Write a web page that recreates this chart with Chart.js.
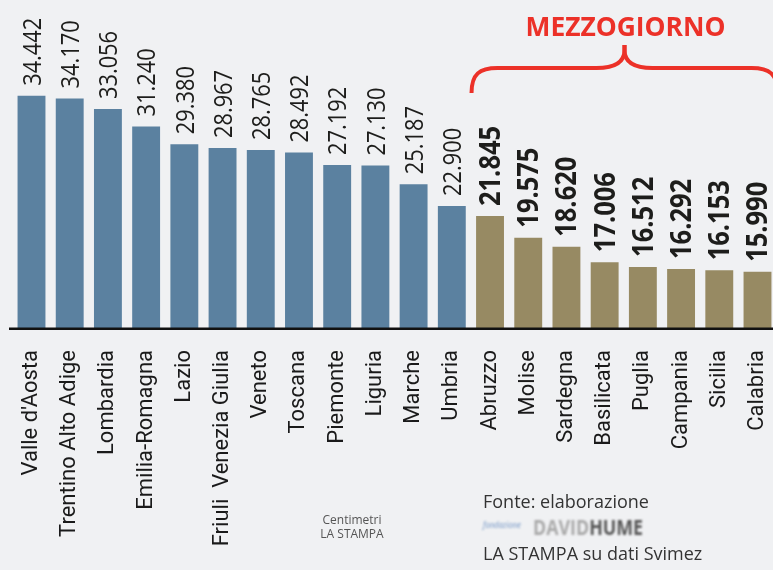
<!DOCTYPE html>
<html><head><meta charset="utf-8">
<script src="https://cdn.jsdelivr.net/npm/chart.js@4.4.1/dist/chart.umd.min.js"></script>
<style>
html,body{margin:0;padding:0;background:#f0f1f3;overflow:hidden;}
#wrap{position:relative;width:773px;height:570px;overflow:hidden;}
canvas{display:block;}
</style></head><body>
<div id="wrap"><canvas id="c" width="780" height="570"></canvas></div>
<script>
// ---- data ----
const regions = ["Valle d'Aosta","Trentino Alto Adige","Lombardia","Emilia-Romagna","Lazio","Friuli  Venezia Giulia","Veneto","Toscana","Piemonte","Liguria","Marche","Umbria","Abruzzo","Molise","Sardegna","Basilicata","Puglia","Campania","Sicilia","Calabria"];
const values = [34442,34170,33056,31240,29380,28967,28765,28492,27192,27130,25187,22900,21845,19575,18620,17006,16512,16292,16153,15990];
const areas = ["CN","CN","CN","CN","CN","CN","CN","CN","CN","CN","CN","CN","S","S","S","S","S","S","S","S"];
const southTitle = "MEZZOGIORNO";
const creditLines = ["Centimetri","LA STAMPA"];
const sourceLines = ["Fonte: elaborazione","LA STAMPA su dati Svimez"];
const logoText = ["fondazione","DAVID","HUME"];

// ---- style ----
const BG = '#f0f1f3';
const COLORS = {CN:'#5b81a0', S:'#978a63'};
const RED = '#ec3128';
const TXT = '#1d1d1b';

function hasFont(name){
  const c=document.createElement('canvas').getContext('2d');
  const s="Trentino Alto Adige 0123";
  c.font='40px monospace'; const a=c.measureText(s).width;
  c.font='40px "'+name+'", monospace'; const b=c.measureText(s).width;
  return Math.abs(a-b)>0.5;
}
const narrow = hasFont('Liberation Sans Narrow');
const tickFont = narrow ? {family:'"Liberation Sans Narrow"', size:27} : {family:'Roboto', size:22};

function fmt(v){ return Math.floor(v/1000)+'.'+String(v%1000).padStart(3,'0'); }

const decor = {
  id:'decor',
  beforeDraw(chart){
    const ctx=chart.ctx; ctx.save(); ctx.fillStyle=BG; ctx.fillRect(0,0,chart.width,chart.height); ctx.restore();
  },
  afterDatasetsDraw(chart){
    const ctx=chart.ctx, ca=chart.chartArea, meta=chart.getDatasetMeta(0);
    // baseline
    ctx.save();
    ctx.strokeStyle='#111'; ctx.lineWidth=2.5;
    ctx.beginPath(); ctx.moveTo(9, ca.bottom-0.3); ctx.lineTo(chart.width, ca.bottom-0.3); ctx.stroke();
    ctx.restore();
    // value labels
    meta.data.forEach((bar,i)=>{
      const s = areas[i]==='S';
      const size = s?28:26;
      ctx.save();
      ctx.translate(bar.x, bar.y-10);
      ctx.rotate(-Math.PI/2);
      ctx.scale(s?0.91:0.84,1);
      ctx.font=(s?'700 ':'400 ')+size+'px "Open Sans"';
      ctx.fillStyle=TXT; ctx.textAlign='left'; ctx.textBaseline='alphabetic';
      ctx.fillText(fmt(values[i]),0,size*0.714/2);
      ctx.restore();
    });
    // brace over southern regions
    const idx = areas.map((a,i)=>a==='S'?i:-1).filter(i=>i>=0);
    const b0 = meta.data[idx[0]], b1 = meta.data[idx[idx.length-1]];
    const L = b0.x-18.5, R = b1.x+20, C=(L+R)/2;
    const yEnd=93, yH=68, yTip=45;
    ctx.save();
    ctx.strokeStyle=RED; ctx.lineWidth=4; ctx.lineCap='butt'; ctx.lineJoin='round';
    ctx.beginPath();
    ctx.moveTo(L,yEnd); ctx.bezierCurveTo(L,74,L+8,yH,L+26,yH);
    ctx.lineTo(C-28,yH); ctx.bezierCurveTo(C-10,yH,C,62,C,50); ctx.lineTo(C,yTip);
    ctx.stroke();
    ctx.beginPath();
    ctx.moveTo(R,yEnd); ctx.bezierCurveTo(R,74,R-8,yH,R-26,yH);
    ctx.lineTo(C+28,yH); ctx.bezierCurveTo(C+10,yH,C,62,C,50); ctx.lineTo(C,yTip);
    ctx.stroke();
    // title
    ctx.font='700 26px "Open Sans"'; ctx.fillStyle=RED; ctx.textAlign='left'; ctx.textBaseline='alphabetic';
    const w=ctx.measureText(southTitle).width; const tw=200;
    ctx.translate(C-tw/2+1,36); ctx.scale(tw/w,1); ctx.fillText(southTitle,0,0);
    ctx.restore();
    // credit
    ctx.save();
    ctx.font='400 12px "Open Sans"'; ctx.fillStyle='#555'; ctx.textAlign='center';
    ctx.fillText(creditLines[0],352,524); ctx.fillText(creditLines[1],352,538);
    ctx.font='400 18px "Open Sans"'; ctx.fillStyle='#333'; ctx.textAlign='left';
    ctx.fillText(sourceLines[0],483,508);
    ctx.fillText(sourceLines[1],483,560);
    // logo
    ctx.filter='blur(0.9px)';
    ctx.font='italic 400 9px "Open Sans"'; ctx.fillStyle='#6f93c4';
    ctx.save(); ctx.translate(483,528); ctx.scale(0.85,1); ctx.fillText(logoText[0],0,0); ctx.restore();
    ctx.font='700 22px "Open Sans"';
    const wd=ctx.measureText(logoText[1]).width, wh=ctx.measureText(logoText[2]).width;
    const sx=110/(wd+wh);
    ctx.save(); ctx.translate(533,535); ctx.scale(sx,1);
    ctx.fillStyle='#a9a9a9'; ctx.fillText(logoText[1],0,0);
    ctx.fillStyle='#555'; ctx.fillText(logoText[2],wd,0);
    ctx.restore();
    ctx.restore();
  }
};

new Chart(document.getElementById('c'),{
  type:'bar',
  data:{ labels:regions, datasets:[{ data:values, backgroundColor:areas.map(a=>COLORS[a]), borderWidth:0, barPercentage:0.73, categoryPercentage:1.0 }] },
  options:{
    responsive:false, animation:false, devicePixelRatio:1,
    layout:{padding:{top:81,left:12.4,right:3.4,bottom:0}},
    plugins:{legend:{display:false}, tooltip:{enabled:false}},
    scales:{
      x:{ grid:{display:false, drawTicks:false}, border:{display:false},
          ticks:{autoSkip:false, minRotation:90, maxRotation:90, padding:21, color:'#1a1a1a', font:tickFont},
          afterFit(s){ s.height=241; s.paddingLeft=0; s.paddingRight=0; } },
      y:{ display:false, min:10000, max:36000 }
    }
  },
  plugins:[decor]
});
</script>
</body></html>
